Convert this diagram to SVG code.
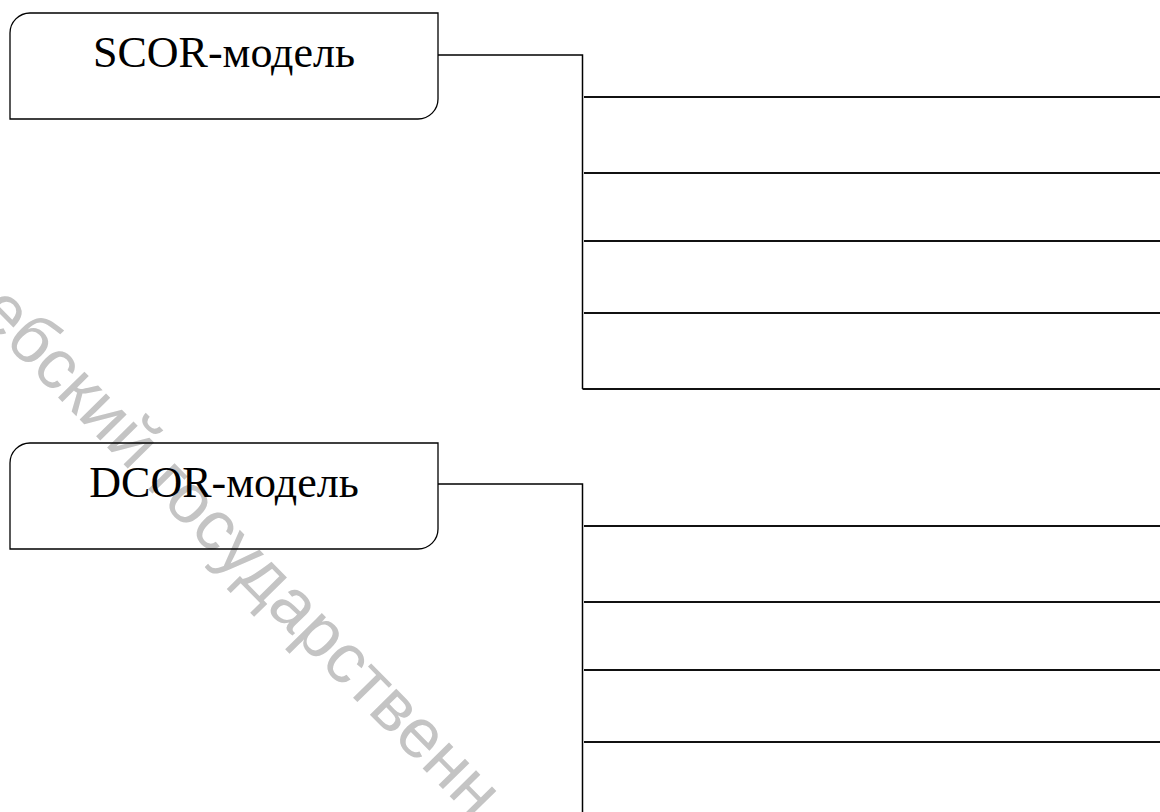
<svg xmlns="http://www.w3.org/2000/svg" width="1160" height="812" viewBox="0 0 1160 812">
  <style>
    .box { fill: none; stroke: #000; stroke-width: 1.3; }
    .label { font-family: "Liberation Serif", "Times New Roman", serif; font-size: 44px; fill: #000; text-anchor: middle; }
    .wire { fill: none; stroke: #000; stroke-width: 1.5; }
    .row { stroke: #111; stroke-width: 1.8; }
    .mark { font-family: "Liberation Sans", Arial, sans-serif; font-size: 70px; fill: #c4c4c4; }
  </style>

  <rect width="1160" height="812" fill="#fff"/>

  <!-- background watermark -->
  <text class="mark" transform="translate(-24 314) rotate(45.5)">ебский государственн</text>

  <!-- model nodes: rounded top-left and bottom-right corners -->
  <g id="scor">
    <path class="box" d="M10,119 V33 A20,20 0 0 1 30,13 H438 V99 A20,20 0 0 1 418,119 Z"/>
    <text class="label" x="224" y="67">SCOR-модель</text>
  </g>
  <g id="dcor">
    <path class="box" d="M10,549 V463 A20,20 0 0 1 30,443 H438 V529 A20,20 0 0 1 418,549 Z"/>
    <text class="label" x="224" y="497">DCOR-модель</text>
  </g>

  <!-- connectors: elbow from each node into a vertical bus with empty rows -->
  <g id="connectors">
    <polyline class="wire" points="438,55 582.5,55 582.5,389"/>
    <line class="row" x1="584" y1="97" x2="1160" y2="97"/>
    <line class="row" x1="584" y1="173" x2="1160" y2="173"/>
    <line class="row" x1="584" y1="241" x2="1160" y2="241"/>
    <line class="row" x1="584" y1="313" x2="1160" y2="313"/>
    <line class="row" x1="582.5" y1="389" x2="1160" y2="389"/>

    <polyline class="wire" points="438,484 582.5,484 582.5,812"/>
    <line class="row" x1="584" y1="526" x2="1160" y2="526"/>
    <line class="row" x1="584" y1="602" x2="1160" y2="602"/>
    <line class="row" x1="584" y1="670" x2="1160" y2="670"/>
    <line class="row" x1="584" y1="742" x2="1160" y2="742"/>
  </g>
</svg>
